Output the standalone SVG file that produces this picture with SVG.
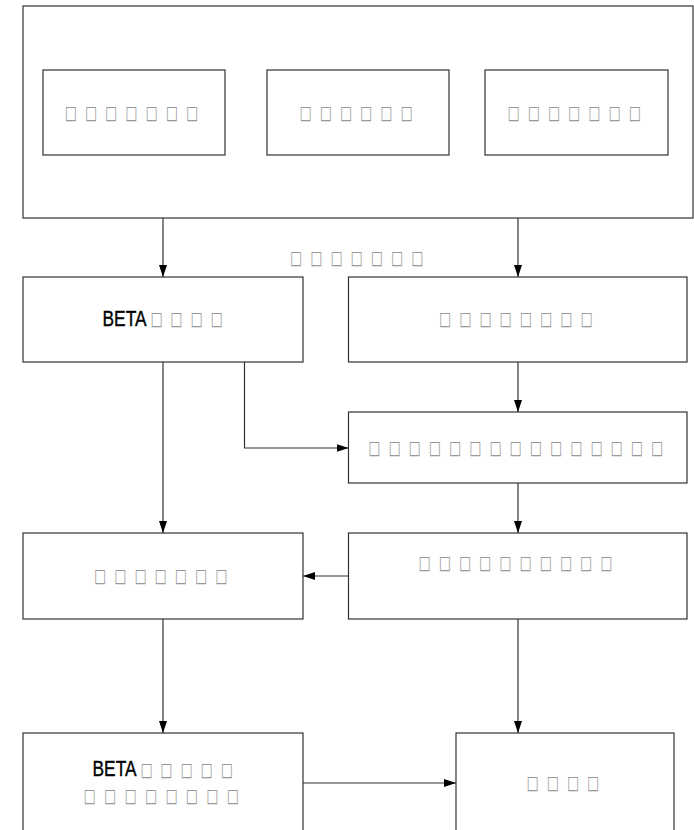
<svg xmlns="http://www.w3.org/2000/svg" width="694" height="830" viewBox="0 0 694 830">
<style>
.box{fill:#fff;stroke:#333;stroke-width:1.2}
.t{font-family:"DejaVu Sans",sans-serif;font-size:19px;fill:#999}
.b{font-family:"Liberation Sans",Arial,sans-serif;font-size:22px;fill:#000;stroke:#000;stroke-width:0.4}
.c{fill:none;stroke:#333;stroke-width:1.2}
</style>
<defs>
<marker id="ah" markerUnits="userSpaceOnUse" markerWidth="13" markerHeight="9" refX="12" refY="4" orient="auto">
<path d="M0,0 L12,4 L0,8 z" fill="#000"/>
</marker>
</defs>
<rect width="694" height="830" fill="#fff"/>
<g id="outer">
<rect class="box" x="23" y="6" width="670" height="212"/>
</g>
<g id="n1"><rect class="box" x="43" y="70" width="182" height="85"/>
<text class="t" transform="scale(0.68,1)" x="95.15 124.86 154.56 184.27 213.97 243.68 273.38" y="119.5">□□□□□□□</text></g>
<g id="n2"><rect class="box" x="267" y="70" width="182" height="85"/>
<text class="t" transform="scale(0.68,1)" x="440.44 470.15 499.85 529.56 559.26 588.97" y="119.5">□□□□□□</text></g>
<g id="n3"><rect class="box" x="485" y="70" width="183" height="85"/>
<text class="t" transform="scale(0.68,1)" x="746.32 776.03 805.74 835.44 865.15 894.85 924.56" y="119.5">□□□□□□□</text></g>
<g id="lbl"><text class="t" transform="scale(0.68,1)" x="426.47 456.18 485.88 515.59 545.29 575.0 604.71" y="264">□□□□□□□</text></g>
<g id="n4"><rect class="box" x="23" y="277" width="280" height="85"/>
<text class="b" x="102.5" y="326" textLength="44" lengthAdjust="spacingAndGlyphs">BETA</text>
<text class="t" transform="scale(0.68,1)" x="221.5 250.29 280.0 309.71" y="325.5">□□□□</text></g>
<g id="n5"><rect class="box" x="348.5" y="277" width="338.5" height="85"/>
<text class="t" transform="scale(0.68,1)" x="645.59 675.29 705.0 734.71 764.41 794.12 823.82 853.53" y="325.5">□□□□□□□□</text></g>
<g id="n6"><rect class="box" x="348.5" y="412" width="338.5" height="71"/>
<text class="t" transform="scale(0.68,1)" x="541.47 571.18 600.88 630.59 660.29 690.0 719.71 749.41 779.12 808.82 838.53 868.24 897.94 927.65 957.35" y="454">□□□□□□□□□□□□□□□</text></g>
<g id="n7"><rect class="box" x="23" y="533" width="280" height="86"/>
<text class="t" transform="scale(0.68,1)" x="138.24 167.94 197.65 227.35 257.06 286.76 316.47" y="582">□□□□□□□</text></g>
<g id="n8"><rect class="box" x="348.5" y="533" width="338.5" height="86"/>
<text class="t" transform="scale(0.68,1)" x="615.44 645.15 674.85 704.56 734.26 763.97 793.68 823.38 853.09 882.79" y="569">□□□□□□□□□□</text></g>
<g id="n9"><rect class="box" x="23" y="733" width="280" height="120"/>
<text class="b" x="92.5" y="776" textLength="44" lengthAdjust="spacingAndGlyphs">BETA</text>
<text class="t" transform="scale(0.68,1)" x="206.8 235.59 265.29 295.0 324.71" y="776">□□□□□</text>
<text class="t" transform="scale(0.68,1)" x="122.94 153.01 183.09 213.16 243.24 273.31 303.38 333.46" y="802">□□□□□□□□</text></g>
<g id="n10"><rect class="box" x="456" y="733" width="218" height="120"/>
<text class="t" transform="scale(0.68,1)" x="774.26 803.97 833.68 863.38" y="789">□□□□</text></g>
<g id="connectors">
<path class="c" d="M163,218 V277" marker-end="url(#ah)"/>
<path class="c" d="M518,218 V277" marker-end="url(#ah)"/>
<path class="c" d="M518,362 V412" marker-end="url(#ah)"/>
<path class="c" d="M244.5,362 V448 H348.5" marker-end="url(#ah)"/>
<path class="c" d="M163,362 V533" marker-end="url(#ah)"/>
<path class="c" d="M518,483 V533" marker-end="url(#ah)"/>
<path class="c" d="M348.5,576 H303" marker-end="url(#ah)"/>
<path class="c" d="M163,619 V733" marker-end="url(#ah)"/>
<path class="c" d="M518,619 V733" marker-end="url(#ah)"/>
<path class="c" d="M303,783 H456" marker-end="url(#ah)"/>
</g>
</svg>
